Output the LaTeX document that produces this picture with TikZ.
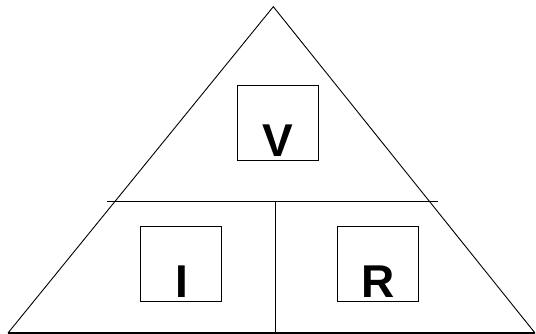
\documentclass[tikz,border=0pt]{standalone}
\usepackage{fontspec}
\setmainfont{Liberation Sans}
\tikzset{box/.style={draw,line width=1.1pt,minimum width=81pt,minimum height=75pt,inner sep=0pt}}
\tikzset{letter/.style={font=\fontsize{46}{46}\selectfont\bfseries,inner sep=0pt}}

\begin{document}
\begin{tikzpicture}[x=1pt,y=-1pt,line join=miter]
\useasboundingbox (0,0) rectangle (536,334);
% corners of the triangle
\coordinate (top) at (273.3,6.7);
\coordinate (bl) at (8,333);
\coordinate (br) at (535,333);
% ends of the dividing lines
\coordinate (hl) at (107.3,201.7);
\coordinate (hr) at (438.3,201.7);
\coordinate (vt) at (275.7,201.7);

\draw[line width=0.9pt] (bl) -- (top) -- (br);
\draw[line width=1.6pt] (bl) -- (br);
\draw[line width=1.1pt] (hl) -- (hr);
\draw[line width=1.1pt] (vt) -- (vt |- bl);

% draw a box with its letter
\foreach \n/\x/\y in {V/277.8/123,I/181.4/264.2,R/378.2/264.3}
{
  \node[box] (box\n) at (\x,\y) {};
  \node[letter,anchor=base] (txt\n) at ([yshift=4.7pt]box\n.south) {\n};
}

\end{tikzpicture}
\end{document}
